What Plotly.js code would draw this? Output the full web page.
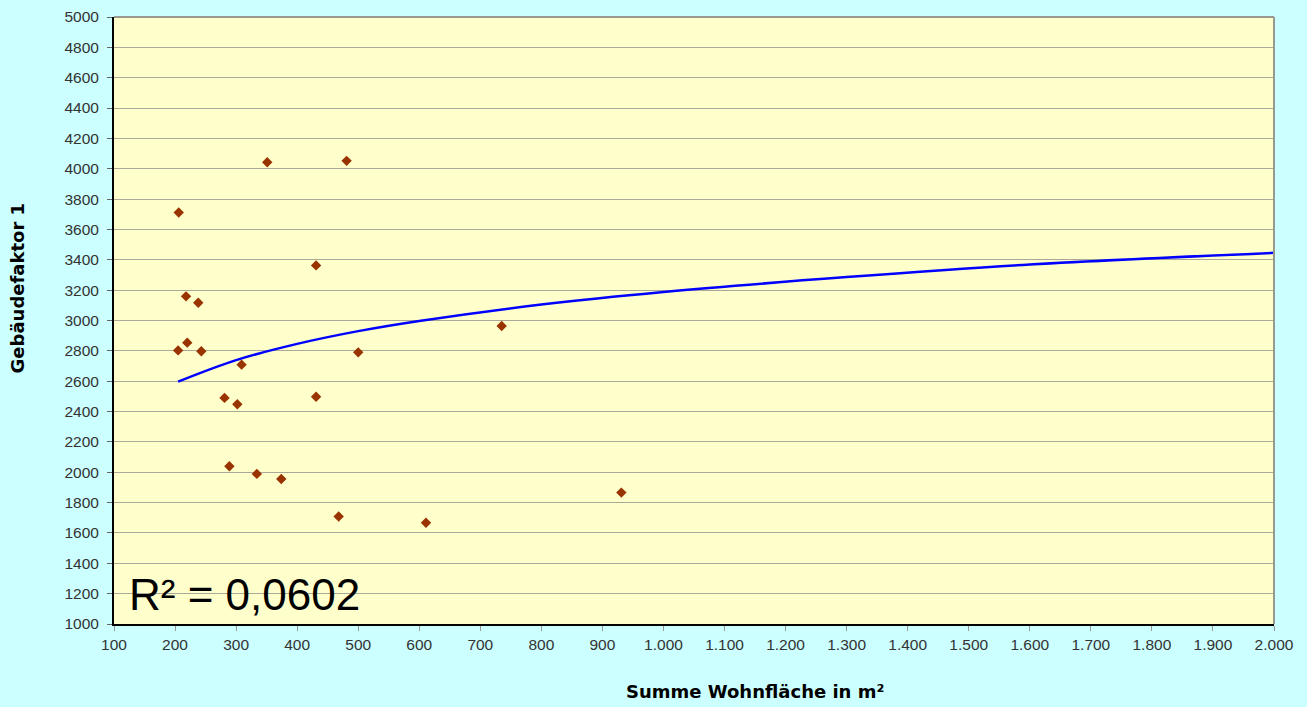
<!DOCTYPE html>
<html>
<head>
<meta charset="utf-8">
<script src="https://cdn.plot.ly/plotly-3.0.1.min.js"></script>
<style>
  html, body { margin: 0; padding: 0; background: #ccffff; }
  #chart { width: 1307px; height: 707px; }
</style>
</head>
<body>
<div id="chart"></div>
<script>
// Messpunkte: Wohnfläche (m²) und Gebäudefaktor 1
const wohnflaeche = [206, 351, 481, 431, 218, 238, 205, 220, 243, 309, 500,
                     735, 281, 302, 431, 289, 334, 374, 468, 611, 931];
const gebaeudefaktor = [3712, 4043, 4052, 3363, 3159, 3117, 2803, 2854, 2797, 2709, 2790,
                        2964, 2490, 2448, 2498, 2040, 1989, 1956, 1708, 1667, 1866];

// logarithmische Trendlinie, Punkte
const trendX = [205, 300, 400, 500, 600, 800, 1000, 1300, 1600, 2000];
const trendY = [2597, 2739, 2846, 2930, 2997, 3105, 3188, 3286, 3369, 3446];

const r2Text = 'R² = 0,0602';
const xTitle = 'Summe Wohnfläche in m²';
const yTitle = 'Gebäudefaktor 1';

const data = [
    {
        x: wohnflaeche,
        y: gebaeudefaktor,
        type: 'scatter',
        mode: 'markers',
        marker: { symbol: 'diamond', size: 8, color: '#993300' },
        hoverinfo: 'x+y'
    },
    {
        x: trendX,
        y: trendY,
        type: 'scatter',
        mode: 'lines',
        line: { color: '#0000ff', width: 2.5, shape: 'spline' },
        hoverinfo: 'skip'
    }
];

const titleFont = { family: 'DejaVu Sans, sans-serif', size: 18, color: '#000000', weight: 'bold' };

const layout = {
    width: 1307,
    height: 707,
    paper_bgcolor: '#ccffff',
    plot_bgcolor: '#ffffcc',
    showlegend: false,
    separators: ',.',
    margin: { l: 114, r: 33, t: 17, b: 83 },
    font: { family: 'Liberation Sans, Arial, sans-serif', size: 15, color: '#333333' },
    xaxis: {
        range: [100, 2000],
        dtick: 100,
        tick0: 100,
        tickformat: ',d',
        showgrid: false,
        zeroline: false,
        showline: true,
        linecolor: '#000000',
        linewidth: 2,
        ticks: 'outside',
        ticklen: 5,
        tickcolor: '#999999',
        tickfont: { size: 15.5, color: '#333333' }
    },
    yaxis: {
        range: [1000, 5000],
        dtick: 200,
        tickformat: 'd',
        showgrid: true,
        gridcolor: '#aaa898',
        gridwidth: 1,
        zeroline: false,
        showline: true,
        linecolor: '#000000',
        linewidth: 2,
        ticks: 'outside',
        ticklen: 5,
        tickcolor: '#666666',
        ticklabelstandoff: 5,
        tickfont: { size: 15.5, color: '#333333' }
    },
    shapes: [
        // grauer Rahmen oben und rechts
        { type: 'line', xref: 'paper', yref: 'paper', x0: 0, x1: 1, y0: 1, y1: 1,
          line: { color: '#999990', width: 2 } },
        { type: 'line', xref: 'paper', yref: 'paper', x0: 1, x1: 1, y0: 0, y1: 1,
          line: { color: '#999990', width: 2 } }
    ],
    annotations: [
        {
            text: r2Text, xref: 'paper', yref: 'paper', x: 0.011, y: 0.049,
            xanchor: 'left', yanchor: 'middle', showarrow: false,
            font: { size: 44, color: '#000000', family: 'Liberation Sans, Arial, sans-serif' }
        },
        {
            text: xTitle, xref: 'paper', yref: 'paper', x: 0.553, y: -0.111,
            xanchor: 'center', yanchor: 'middle', showarrow: false,
            font: titleFont
        },
        {
            text: yTitle, xref: 'paper', yref: 'paper', x: -0.083, y: 0.554,
            xanchor: 'center', yanchor: 'middle', showarrow: false, textangle: -90,
            font: titleFont
        }
    ]
};

Plotly.newPlot('chart', data, layout, { displayModeBar: false, staticPlot: true });
</script>
</body>
</html>
